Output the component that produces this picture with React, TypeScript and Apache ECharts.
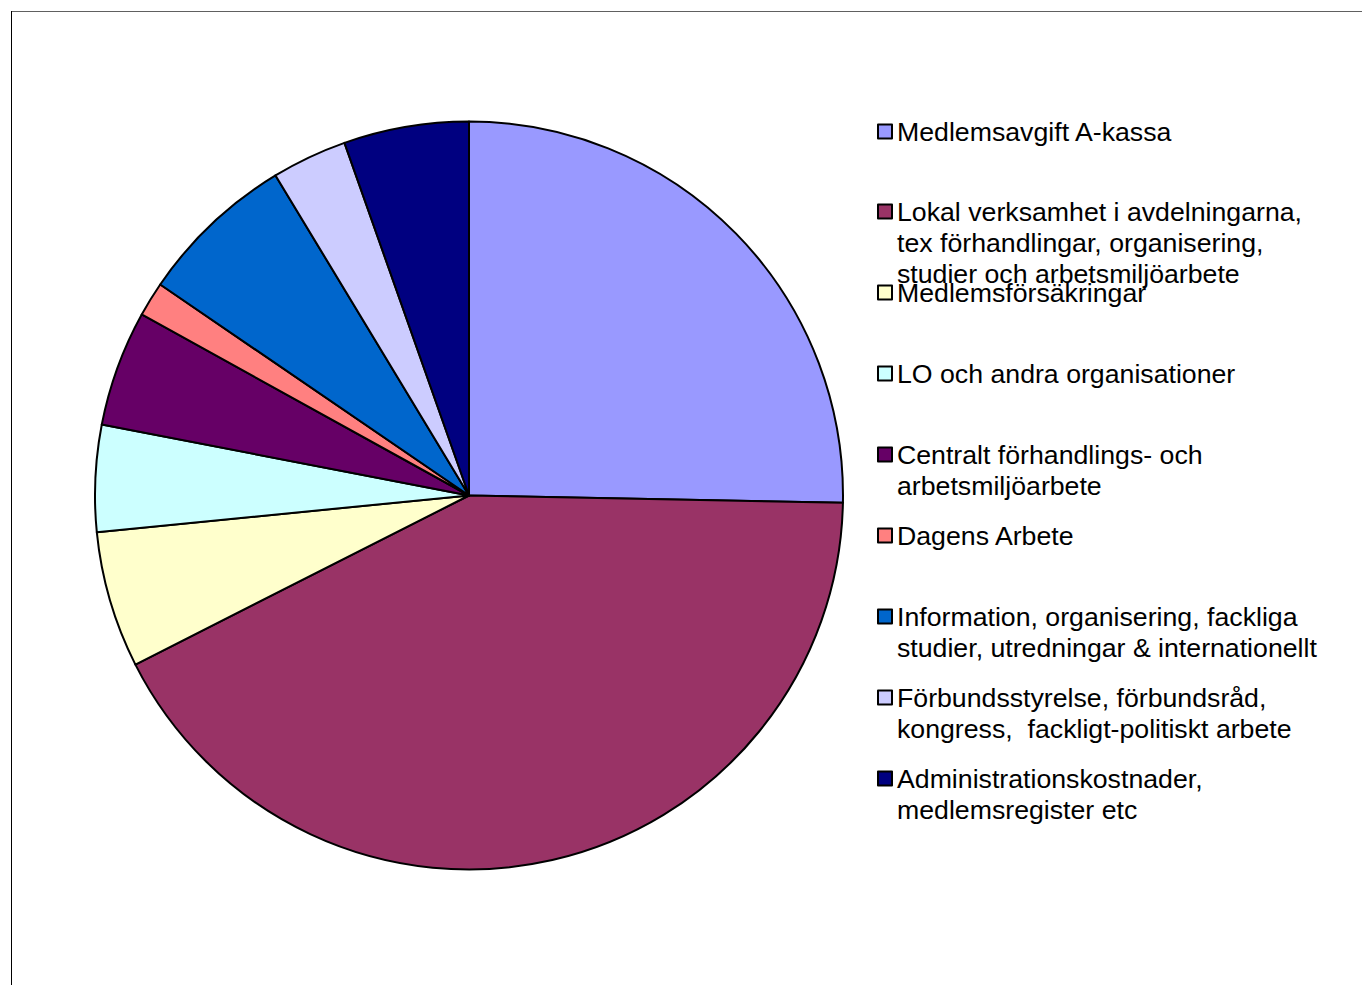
import React, { useEffect, useRef } from "react";
import * as echarts from "echarts";

const categories = [
  "Medlemsavgift A-kassa",
  "Lokal verksamhet i avdelningarna, tex förhandlingar, organisering, studier och arbetsmiljöarbete",
  "Medlemsförsäkringar",
  "LO och andra organisationer",
  "Centralt förhandlings- och arbetsmiljöarbete",
  "Dagens Arbete",
  "Information, organisering, fackliga studier, utredningar & internationellt",
  "Förbundsstyrelse, förbundsråd, kongress,  fackligt-politiskt arbete",
  "Administrationskostnader, medlemsregister etc",
];

const legendLines = [
  ["Medlemsavgift A-kassa"],
  ["Lokal verksamhet i avdelningarna,", "tex förhandlingar, organisering,", "studier och arbetsmiljöarbete"],
  ["Medlemsförsäkringar"],
  ["LO och andra organisationer"],
  ["Centralt förhandlings- och", "arbetsmiljöarbete"],
  ["Dagens Arbete"],
  ["Information, organisering, fackliga", "studier, utredningar & internationellt"],
  ["Förbundsstyrelse, förbundsråd,", "kongress,  fackligt-politiskt arbete"],
  ["Administrationskostnader,", "medlemsregister etc"],
];

const values = [25.3, 42.2, 5.9, 4.6, 5.0, 1.5, 6.8, 3.25, 5.4];

const colors = [
  "#9999FF",
  "#993366",
  "#FFFFCC",
  "#CCFFFF",
  "#660066",
  "#FF8080",
  "#0066CC",
  "#CCCCFF",
  "#000080",
];

export default function App() {
  const ref = useRef<HTMLDivElement>(null);

  useEffect(() => {
    document.body.style.margin = "0";
    if (!ref.current) return;
    const chart = echarts.init(ref.current, null, { renderer: "svg" });
    const lineH = 31;
    const firstCenter = 131;
    const step = 80.9;
    const font = "'Liberation Sans', Arial, sans-serif";

    const legends = categories.map((name, i) => {
      const n = legendLines[i].length;
      // prepend empty lines so that the first real line sits at the marker's centre
      const text = Array(n - 1).fill("").concat(legendLines[i]).join("\n");
      return {
        show: true,
        orient: "vertical",
        left: 877,
        top: Math.round(firstCenter + i * step - lineH / 2 - (n - 1) * lineH),
        padding: 0,
        itemGap: 0,
        itemWidth: 14,
        itemHeight: 14,
        selectedMode: false,
        icon: "rect",
        data: [name],
        formatter: () => text,
        itemStyle: { borderColor: "#000", borderWidth: 2 },
        textStyle: {
          fontSize: 26.7,
          fontFamily: font,
          color: "#000",
          lineHeight: lineH,
        },
      };
    });

    chart.setOption({
      animation: false,
      backgroundColor: "#fff",
      color: colors,
      legend: legends,
      graphic: [
        {
          type: "line",
          shape: { x1: 11, y1: 11.5, x2: 1362, y2: 11.5 },
          style: { stroke: "#606060", lineWidth: 1 },
        },
        {
          type: "line",
          shape: { x1: 11.5, y1: 11, x2: 11.5, y2: 985 },
          style: { stroke: "#000", lineWidth: 1 },
        },
      ],
      series: [
        {
          type: "pie",
          center: [469, 495.5],
          radius: 374,
          startAngle: 90,
          clockwise: true,
          label: { show: false },
          labelLine: { show: false },
          emphasis: { disabled: true },
          itemStyle: { borderColor: "#000", borderWidth: 2 },
          data: categories.map((name, i) => ({ name, value: values[i] })),
        },
      ],
    });

    return () => chart.dispose();
  }, []);

  return (
    <div
      ref={ref}
      style={{ position: "absolute", left: 0, top: 0, width: 1362, height: 985 }}
    />
  );
}
